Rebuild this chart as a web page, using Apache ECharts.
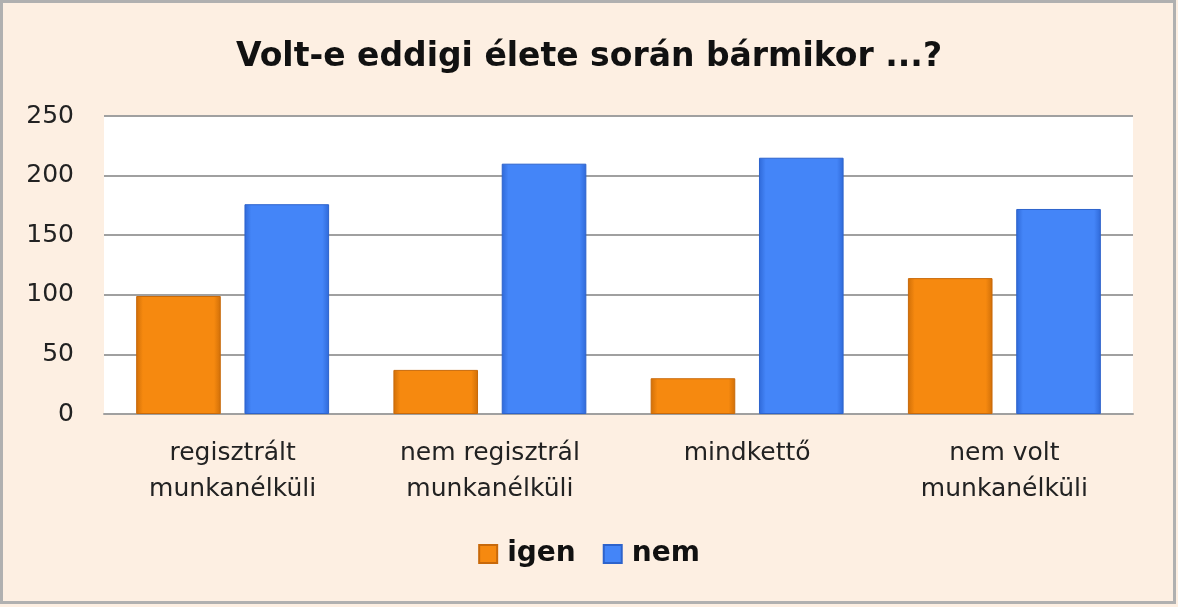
<!DOCTYPE html>
<html><head><meta charset="utf-8">
<script src="https://cdn.jsdelivr.net/npm/echarts@6/dist/echarts.min.js"></script>
<style>html,body{margin:0;padding:0;background:#fdefe2}#c{width:1178px;height:607px}</style>
</head><body><div id="c"></div>
<script>
const categories = ['regisztrált\nmunkanélküli', 'nem regisztrál\nmunkanélküli', 'mindkettő', 'nem volt\nmunkanélküli'];
const igen = [99, 37, 30, 114];
const nem = [176, 210, 215, 172];
const seriesNames = ['igen', 'nem'];
const yTicks = { min: 0, max: 250, interval: 50 };

const FONT = '"DejaVu Sans"';
function grad(mid, edge) {
  return new echarts.graphic.LinearGradient(0, 0, 1, 0, [
    { offset: 0, color: edge }, { offset: 0.08, color: mid }, { offset: 0.92, color: mid }, { offset: 1, color: edge }
  ]);
}
const chart = echarts.init(document.getElementById('c'));
chart.setOption({
  backgroundColor: '#fdefe2',
  animation: false,
  title: {
    text: 'Volt-e eddigi élete során bármikor ...?',
    left: 'center', top: 36,
    textStyle: { fontFamily: FONT, fontWeight: 'bold', fontSize: 33, color: '#111' }
  },
  legend: {
    data: seriesNames, bottom: 34, left: 'center',
    icon: 'rect', itemWidth: 18, itemHeight: 18, itemGap: 27,
    textStyle: { fontFamily: FONT, fontWeight: 'bold', fontSize: 28, color: '#111', padding: [0, 0, 0, 5] }
  },
  grid: { left: 104, right: 45, top: 116, bottom: 193, backgroundColor: '#ffffff', show: true, borderWidth: 0 },
  xAxis: {
    type: 'category', data: categories,
    axisLine: { lineStyle: { color: '#a0a0a0', width: 2 } },
    axisTick: { show: false },
    axisLabel: { fontFamily: FONT, fontSize: 25, color: '#222', lineHeight: 36, margin: 21 }
  },
  yAxis: {
    type: 'value', min: yTicks.min, max: yTicks.max, interval: yTicks.interval,
    axisLine: { show: false }, axisTick: { show: false },
    axisLabel: { fontFamily: FONT, fontSize: 25, color: '#222', margin: 30 },
    splitLine: { lineStyle: { color: '#a0a0a0', width: 2 } }
  },
  series: [
    { name: seriesNames[0], type: 'bar', data: igen, barGap: '28%', barCategoryGap: '25%',
      itemStyle: { color: grad('#f6890f', '#d06f08'), borderColor: '#c8690a', borderWidth: 1 } },
    { name: seriesNames[1], type: 'bar', data: nem,
      itemStyle: { color: grad('#4485f8', '#2f69d8'), borderColor: '#2d63cc', borderWidth: 1 } }
  ],
  graphic: [{ type: 'rect', shape: { x: 1.5, y: 1.5, width: 1173, height: 601 }, style: { fill: 'none', stroke: '#b0b0b0', lineWidth: 3 }, silent: true }]
});
</script></body></html>
